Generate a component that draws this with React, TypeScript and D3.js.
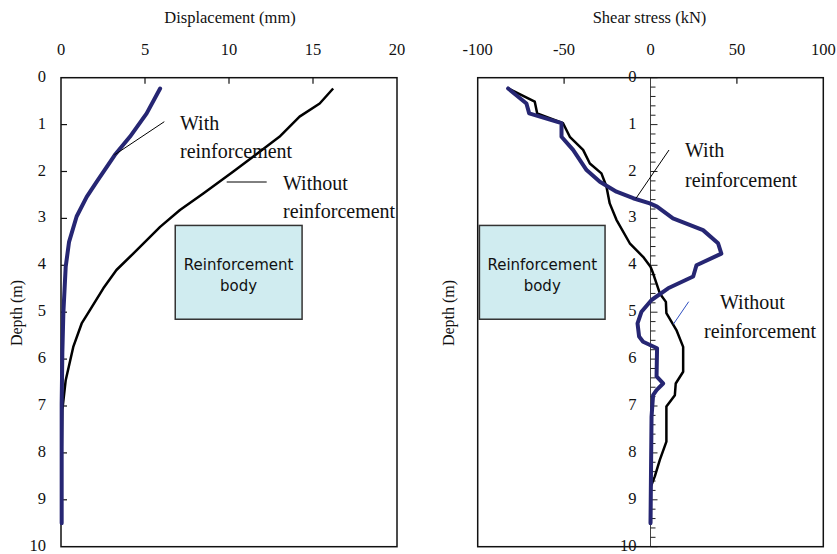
import React from "react";
import * as d3 from "d3";

// Left chart: displacement (mm) vs depth (m)
const dispWithDepth = [0.23, 0.76, 1.26, 1.65, 2.22, 2.54, 2.96, 3.5, 4.03, 5.02, 5.87, 6.94, 9.5];
const dispWithValue = [5.9, 5.1, 4.1, 3.2, 2.12, 1.53, 0.93, 0.48, 0.28, 0.14, 0.08, 0.04, 0.04];
const dispWithoutDepth = [0.23, 0.55, 0.83, 1.26, 1.68, 2.0, 2.47, 2.82, 3.18, 3.75, 4.1, 4.49, 4.95, 5.24, 5.74, 6.45, 7.08, 8.0, 9.5];
const dispWithoutValue = [16.2, 15.4, 14.2, 13.0, 11.45, 10.26, 8.47, 7.08, 5.9, 4.3, 3.3, 2.52, 1.73, 1.23, 0.73, 0.28, 0.08, 0.04, 0.03];

// Right chart: shear stress (kN) vs depth (m)
const shearWithDepth = [0.23, 0.55, 0.76, 0.97, 1.26, 1.54, 1.97, 2.22, 2.43, 2.57, 2.68, 2.75, 3.0, 3.25, 3.53, 3.75, 4.0, 4.24, 4.49, 4.74, 4.99, 5.24, 5.52, 5.63, 5.77, 6.37, 6.52, 6.66, 6.77, 7.23, 9.5];
const shearWithValue = [-82.4, -71.8, -70.2, -51.5, -51.5, -44.8, -37, -29.3, -19.7, -10, -0.4, 3.8, 13, 30.4, 39.1, 41, 26.6, 24.7, 10.2, 0.6, -5.2, -7.5, -6.6, -4.3, 3.8, 3.5, 7.3, 3.5, 1.5, 0.6, 0];
const shearWithoutDepth = [0.23, 0.51, 0.76, 0.97, 1.26, 1.54, 1.83, 2.04, 2.32, 2.68, 3.03, 3.53, 3.82, 4.03, 4.17, 4.6, 4.78, 5.02, 5.38, 5.74, 6.27, 6.52, 6.77, 7.01, 7.76, 8.15, 8.5, 8.72, 9.5];
const shearWithoutValue = [-82.4, -67, -65.6, -50.6, -46.7, -39, -35.1, -28.4, -25.5, -23.6, -19.7, -12, -4.3, 0, 1.5, 5.4, 8.9, 9.2, 15, 18.9, 18.9, 14.6, 14.1, 9.2, 9.2, 5.4, 2.5, 0.2, 0.2];

const dispTicks = [0, 5, 10, 15, 20];
const shearTicks = [-100, -50, 0, 50, 100];
const depthTicks = [0, 1, 2, 3, 4, 5, 6, 7, 8, 9, 10];
const depthMinorTicks = d3.range(0, 10.001, 0.2);

const bodyDepth = [3.15, 5.15];
const bodyDisp = [6.8, 14.35];
const bodyShear = [-99, -26.3];

const BLUE = "#262673";
const SERIF = "'Liberation Serif', 'Times New Roman', serif";
const SANS = "'DejaVu Sans', Arial, sans-serif";

const TOP = 77.7;
const BOTTOM = 546.7;

function lineOf(xs: number[], ys: number[], x: d3.ScaleLinear<number, number>, y: d3.ScaleLinear<number, number>) {
  const pts: [number, number][] = xs.map((v, i) => [v, ys[i]]);
  return d3.line<[number, number]>().x((p) => x(p[0])).y((p) => y(p[1]))(pts) || "";
}

export default function App() {
  const y = d3.scaleLinear().domain([0, 10]).range([TOP, BOTTOM]);
  const xL = d3.scaleLinear().domain([0, 20]).range([61, 397]);
  const xR = d3.scaleLinear().domain([-100, 100]).range([477.7, 823.3]);

  const tickFont = { fontFamily: SERIF, fontSize: 16.5, fill: "#111" } as const;
  const annFont = { fontFamily: SERIF, fontSize: 20, fill: "#111" } as const;
  const titleFont = { fontFamily: SERIF, fontSize: 16.5, fill: "#111" } as const;
  const bodyFont = { fontFamily: SANS, fontSize: 15, fill: "#111" } as const;

  return (
    <svg width={837} height={554} style={{ position: "absolute", left: 0, top: 0, background: "#fff" }}>
      {/* ---------- LEFT CHART ---------- */}
      <text x={(xL(0) + xL(20)) / 2 + 1} y={23} textAnchor="middle" style={titleFont}>
        Displacement (mm)
      </text>
      {dispTicks.map((t) => (
        <text key={"lt" + t} x={xL(t)} y={55} textAnchor="middle" style={tickFont}>{t}</text>
      ))}
      {depthTicks.map((t) => (
        <text key={"ld" + t} x={46} y={y(t) + 4} textAnchor="end" style={tickFont}>{t}</text>
      ))}
      <text transform={`translate(22,313) rotate(-90)`} textAnchor="middle" style={{ fontFamily: SERIF, fontSize: 16, fill: "#111" }}>
        Depth (m)
      </text>
      <rect x={xL(0)} y={TOP} width={xL(20) - xL(0)} height={BOTTOM - TOP} fill="none" stroke="#111" strokeWidth={1.5} />
      {dispTicks.slice(1, -1).map((t) => (
        <line key={"ltk" + t} x1={xL(t)} x2={xL(t)} y1={TOP} y2={TOP + 6} stroke="#111" strokeWidth={1.2} />
      ))}
      {depthTicks.slice(1, -1).map((t) => (
        <line key={"ldk" + t} x1={xL(0)} x2={xL(0) + 6} y1={y(t)} y2={y(t)} stroke="#111" strokeWidth={1.2} />
      ))}
      <rect x={xL(bodyDisp[0])} y={y(bodyDepth[0])} width={xL(bodyDisp[1]) - xL(bodyDisp[0])} height={y(bodyDepth[1]) - y(bodyDepth[0])}
        fill="#d0ecf0" stroke="#333" strokeWidth={1.5} />
      <text x={(xL(bodyDisp[0]) + xL(bodyDisp[1])) / 2} y={270} textAnchor="middle" style={bodyFont}>Reinforcement</text>
      <text x={(xL(bodyDisp[0]) + xL(bodyDisp[1])) / 2} y={291} textAnchor="middle" style={bodyFont}>body</text>

      <path d={lineOf(dispWithoutValue, dispWithoutDepth, xL, y)} fill="none" stroke="#000" strokeWidth={2.5} strokeLinejoin="round" />
      <path d={lineOf(dispWithValue, dispWithDepth, xL, y)} fill="none" stroke={BLUE} strokeWidth={4} strokeLinejoin="round" strokeLinecap="round" />

      <line x1={164.3} y1={121.7} x2={114.3} y2={155} stroke="#000" strokeWidth={1} />
      <line x1={226.7} y1={182} x2={266.7} y2={182} stroke="#000" strokeWidth={1} />
      <text x={180} y={130} style={annFont}>With</text>
      <text x={180} y={158} style={annFont}>reinforcement</text>
      <text x={283} y={190} style={annFont}>Without</text>
      <text x={283} y={218} style={annFont}>reinforcement</text>

      {/* ---------- RIGHT CHART ---------- */}
      <text x={(xR(-100) + xR(100)) / 2 - 1} y={23} textAnchor="middle" style={titleFont}>
        Shear stress (kN)
      </text>
      {shearTicks.map((t) => (
        <text key={"rt" + t} x={xR(t)} y={55} textAnchor="middle" style={tickFont}>{t}</text>
      ))}
      <text transform={`translate(454,313) rotate(-90)`} textAnchor="middle" style={{ fontFamily: SERIF, fontSize: 16, fill: "#111" }}>
        Depth (m)
      </text>
      <rect x={xR(bodyShear[0])} y={y(bodyDepth[0])} width={xR(bodyShear[1]) - xR(bodyShear[0])} height={y(bodyDepth[1]) - y(bodyDepth[0])}
        fill="#d0ecf0" stroke="#333" strokeWidth={1.5} />
      <text x={(xR(bodyShear[0]) + xR(bodyShear[1])) / 2} y={270} textAnchor="middle" style={bodyFont}>Reinforcement</text>
      <text x={(xR(bodyShear[0]) + xR(bodyShear[1])) / 2} y={291} textAnchor="middle" style={bodyFont}>body</text>

      <line x1={xR(0)} x2={xR(0)} y1={TOP} y2={BOTTOM} stroke="#444" strokeWidth={1} />
      {depthMinorTicks.map((t, i) => (
        <line key={"rmk" + i} x1={xR(0)} x2={xR(0) + (i % 5 === 0 ? 7 : 5)} y1={y(t)} y2={y(t)} stroke="#222" strokeWidth={1} />
      ))}
      {depthTicks.map((t) => (
        <text key={"rd" + t} x={xR(0) - 14} y={y(t) + 4} textAnchor="end" style={tickFont}>{t}</text>
      ))}
      <rect x={xR(-100)} y={TOP} width={xR(100) - xR(-100)} height={BOTTOM - TOP} fill="none" stroke="#111" strokeWidth={1.5} />
      {[-50, 50].map((t) => (
        <line key={"rtk" + t} x1={xR(t)} x2={xR(t)} y1={TOP} y2={TOP + 6} stroke="#111" strokeWidth={1.2} />
      ))}

      <path d={lineOf(shearWithoutValue, shearWithoutDepth, xR, y)} fill="none" stroke="#000" strokeWidth={2.5} strokeLinejoin="round" />
      <path d={lineOf(shearWithValue, shearWithDepth, xR, y)} fill="none" stroke={BLUE} strokeWidth={4} strokeLinejoin="round" strokeLinecap="round" />

      <line x1={669} y1={150} x2={636} y2={198.3} stroke="#000" strokeWidth={1} />
      <line x1={688.7} y1={301.7} x2={673.3} y2={324.3} stroke="#2f4fc0" strokeWidth={1} />
      <text x={685} y={157} style={annFont}>With</text>
      <text x={685} y={187} style={annFont}>reinforcement</text>
      <text x={720} y={309} style={annFont}>Without</text>
      <text x={704} y={338} style={annFont}>reinforcement</text>
    </svg>
  );
}
